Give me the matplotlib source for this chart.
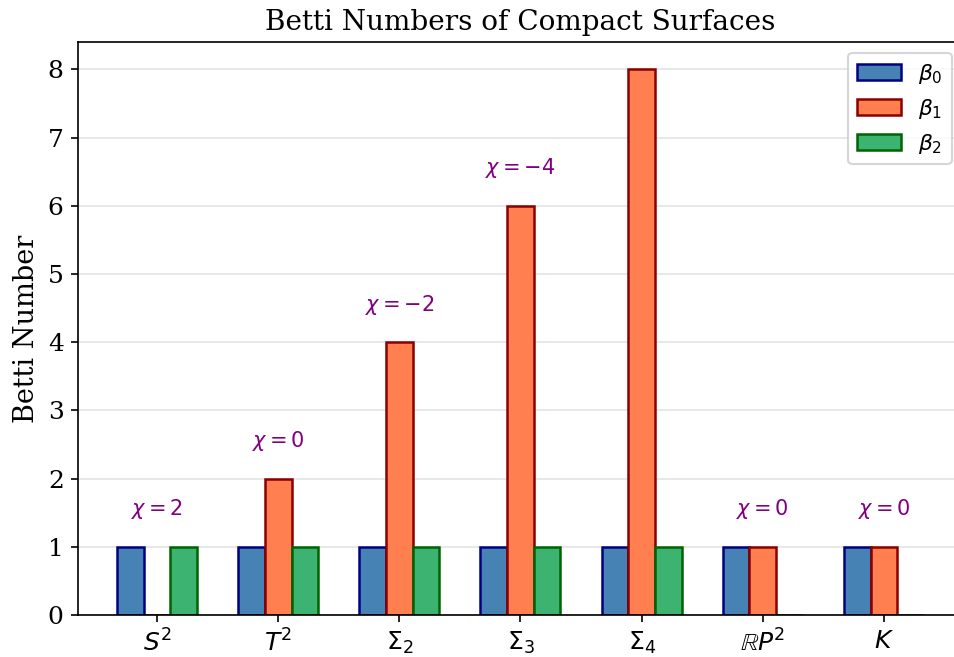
import matplotlib
matplotlib.use("Agg")
import matplotlib.pyplot as plt
import numpy as np

plt.rcParams["font.family"] = "serif"

surfaces = [r"$S^2$", r"$T^2$", r"$\Sigma_2$", r"$\Sigma_3$", r"$\Sigma_4$",
            r"$\mathbb{R}P^2$", r"$K$"]
beta0 = [1, 1, 1, 1, 1, 1, 1]
beta1 = [0, 2, 4, 6, 8, 1, 1]
beta2 = [1, 1, 1, 1, 1, 0, 0]
euler = [2, 0, -2, -4, -6, 0, 0]

YMAX = 8.4

fig, ax = plt.subplots(figsize=(955 / 150, 657 / 150), dpi=150)
fig.subplots_adjust(left=0.082, right=1.008, top=0.936, bottom=0.064)

x = np.arange(len(surfaces))
w = 0.22
series = [
    (beta0, -w, "steelblue", "navy", r"$\beta_0$"),
    (beta1, 0.0, "#FF7F50", "darkred", r"$\beta_1$"),
    (beta2, w, "mediumseagreen", "darkgreen", r"$\beta_2$"),
]
for vals, off, fc, ec, lab in series:
    ax.bar(x + off, vals, w, color=fc, edgecolor=ec, linewidth=1.2, label=lab)

# Euler characteristic above each group (skip ones that fall off the axes)
for i, chi in enumerate(euler):
    top = max(beta0[i], beta1[i], beta2[i])
    y = top + 0.55
    if y + 0.15 > YMAX:
        continue
    ax.text(x[i], y, rf"$\chi = {chi}$", ha="center", va="center",
            fontsize=10, color="purple")

ax.set_xticks(x)
ax.set_xticklabels(surfaces, fontsize=12)
ax.tick_params(axis="y", labelsize=12)
ax.set_xlim(-0.65, 6.65)
ax.set_ylim(0, YMAX)
ax.set_yticks(range(0, 9))
ax.set_ylabel("Betti Number", fontsize=13)
ax.set_title("Betti Numbers of Compact Surfaces", fontsize=13.4)
ax.yaxis.grid(True, color="lightgray", alpha=0.6)
ax.set_axisbelow(True)
ax.spines["right"].set_visible(False)
ax.legend(loc="upper right", fontsize=10.5, handlelength=2.0)

plt.savefig("out.png", dpi=150)
